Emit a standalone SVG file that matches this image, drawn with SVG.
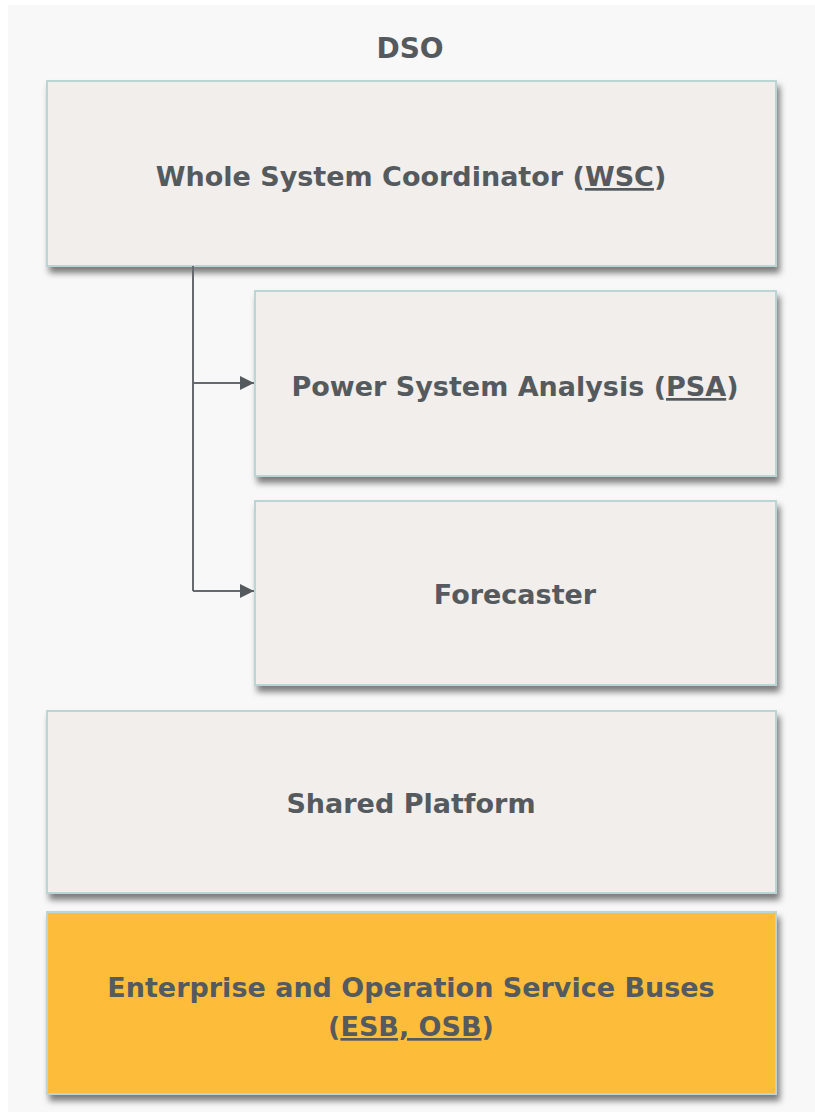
<svg xmlns="http://www.w3.org/2000/svg" width="815" height="1112" viewBox="0 0 815 1112">
<defs>
<filter id="sh" x="-5%" y="-5%" width="115%" height="125%">
<feDropShadow dx="3" dy="6" stdDeviation="3" flood-color="#000" flood-opacity="0.5"/>
</filter>
<marker id="arr" viewBox="0 0 10 10" refX="10" refY="5" markerWidth="7" markerHeight="7" markerUnits="strokeWidth" orient="auto">
<path d="M0,0 L10,5 L0,10 z" fill="#555a5f"/>
</marker>
<style>
.box{fill:#f1eeeb;stroke:#b9d6d4;stroke-width:2;filter:url(#sh)}
.esb{fill:#fdbd3a;stroke:#b9d6d4;stroke-width:2;filter:url(#sh)}
.t{font-family:"DejaVu Sans",sans-serif;font-weight:bold;font-size:27px;fill:#555a5f;text-anchor:middle}
.h{font-family:"DejaVu Sans",sans-serif;font-weight:bold;font-size:28px;fill:#555a5f;text-anchor:middle}
.u{text-decoration:underline}
.c{fill:none;stroke:#666a6e;stroke-width:2}
</style>
</defs>
<rect x="0" y="0" width="815" height="1112" fill="#ffffff"/>
<rect x="8" y="5" width="807" height="1107" fill="#f8f8f8"/>
<text class="h" x="410" y="58">DSO</text>
<g id="wsc">
<rect class="box" x="47" y="81" width="729" height="185"/>
<text class="t" x="411" y="186">Whole System Coordinator (<tspan class="u">WSC</tspan>)</text>
</g>
<g id="psa">
<rect class="box" x="255" y="291" width="521" height="185"/>
<text class="t" x="515" y="396">Power System Analysis (<tspan class="u">PSA</tspan>)</text>
</g>
<g id="forecaster">
<rect class="box" x="255" y="501" width="521" height="184"/>
<text class="t" x="515" y="604">Forecaster</text>
</g>
<g id="shared">
<rect class="box" x="47" y="711" width="729" height="182"/>
<text class="t" x="411" y="813">Shared Platform</text>
</g>
<g id="esb">
<rect class="esb" x="47" y="912" width="729" height="182"/>
<text class="t" x="411" y="997">Enterprise and Operation Service Buses</text>
<text class="t" x="411" y="1036">(<tspan class="u">ESB, OSB</tspan>)</text>
</g>
<g id="connectors">
<path class="c" d="M193,266 V591"/>
<path class="c" d="M193,383 H254" marker-end="url(#arr)"/>
<path class="c" d="M193,591 H254" marker-end="url(#arr)"/>
</g>
</svg>
